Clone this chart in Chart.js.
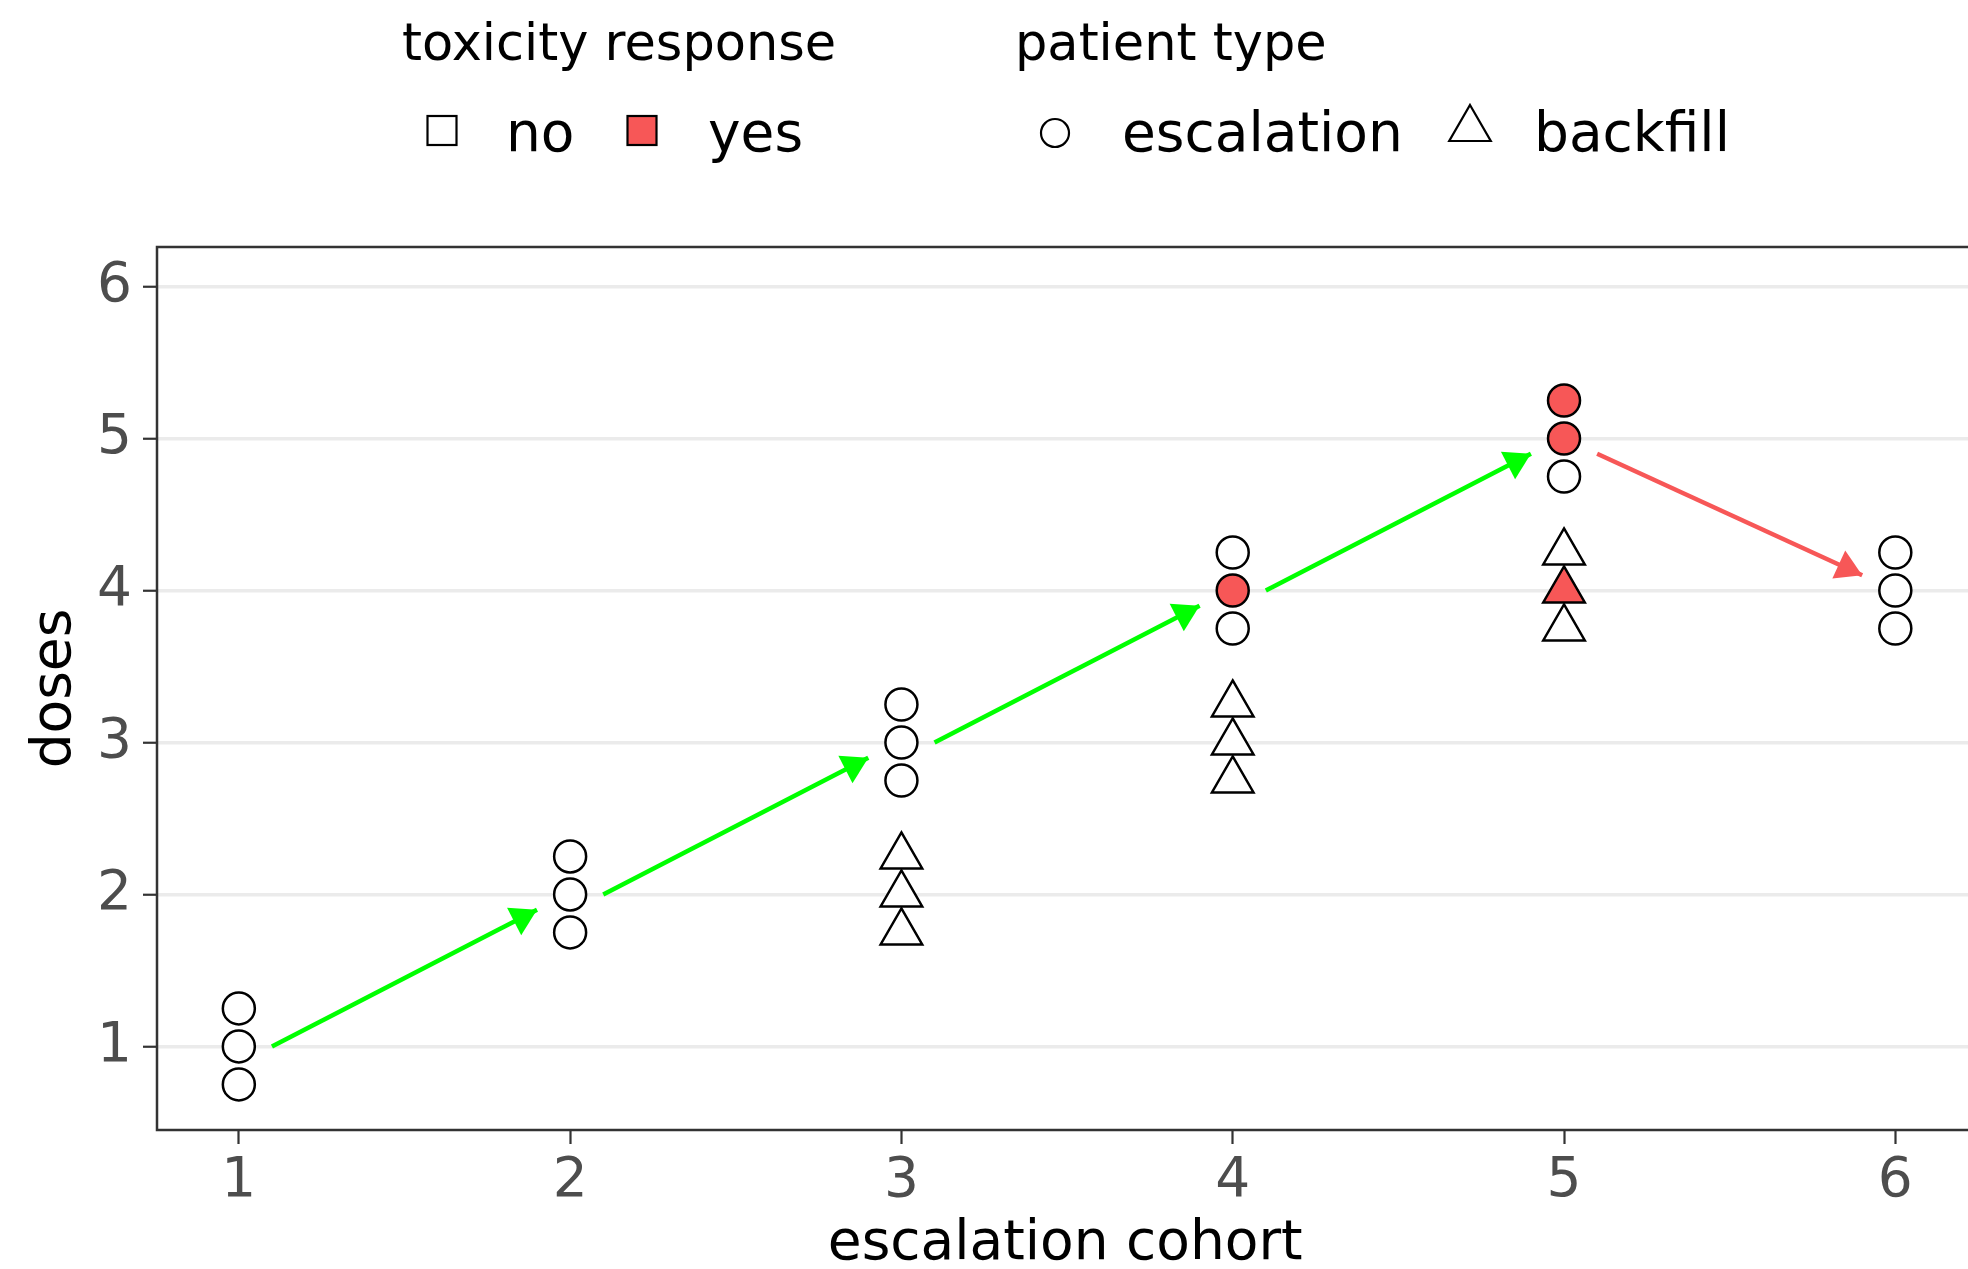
<!DOCTYPE html>
<html>
<head>
<meta charset="utf-8">
<script src="https://cdn.jsdelivr.net/npm/chart.js@4.4.1/dist/chart.umd.min.js"></script>
<style>
  html, body { margin: 0; padding: 0; background: #fff; overflow: hidden; }
  #wrap { width: 1968px; height: 1269px; overflow: hidden; }
  canvas { display: block; }
</style>
</head>
<body>
<div id="wrap"><canvas id="doseChart" width="2000" height="1269"></canvas></div>
<script>
'use strict';

// ── Data ─────────────────────────────────────────────────────────────────────
const xTicks = [1, 2, 3, 4, 5, 6];
const yTicks = [1, 2, 3, 4, 5, 6];

// escalation patients, no toxicity
const escNoX = [1, 1, 1, 2, 2, 2, 3, 3, 3, 4, 4, 5, 6, 6, 6];
const escNoY = [0.75, 1, 1.25, 1.75, 2, 2.25, 2.75, 3, 3.25, 3.75, 4.25, 4.75, 3.75, 4, 4.25];
// escalation patients, toxicity
const escYesX = [4, 5, 5];
const escYesY = [4, 5, 5.25];
// backfill patients, no toxicity
const bfNoX = [3, 3, 3, 4, 4, 4, 5, 5];
const bfNoY = [1.75, 2, 2.25, 2.75, 3, 3.25, 3.75, 4.25];
// backfill patients, toxicity
const bfYesX = [5];
const bfYesY = [4];

// dose decisions between cohorts
const arrowFromX = [1.1, 2.1, 3.1, 4.1, 5.1];
const arrowFromY = [1, 2, 3, 4, 4.9];
const arrowToX   = [1.9, 2.9, 3.9, 4.9, 5.9];
const arrowToY   = [1.9, 2.9, 3.9, 4.9, 4.1];
const arrowDir   = ['up', 'up', 'up', 'up', 'down'];

// ── Styles ───────────────────────────────────────────────────────────────────
const TOX_RED = '#F75757';
const ARROW_COLORS = { up: '#00FF00', down: '#F75757' };
const FONT = "'DejaVu Sans', sans-serif";

Chart.defaults.font.family = FONT;

function pts(xs, ys) {
  return xs.map((x, i) => ({ x, y: ys[i] }));
}

function pointSet(label, xs, ys, shape, fill) {
  return {
    type: 'scatter',
    label,
    data: pts(xs, ys),
    pointStyle: shape,
    pointRadius: shape === 'triangle' ? 24 : 16,
    pointBackgroundColor: fill,
    pointBorderColor: '#000',
    pointBorderWidth: 2.5,
    order: 1,
  };
}

const arrowSets = arrowToX.map((tx, i) => ({
  type: 'line',
  label: 'arrow ' + (i + 1),
  data: [{ x: arrowFromX[i], y: arrowFromY[i] }, { x: tx, y: arrowToY[i] }],
  borderColor: ARROW_COLORS[arrowDir[i]],
  borderWidth: 4.5,
  pointRadius: 0,
  tension: 0,
  order: 2,
}));

// ── Plugins ──────────────────────────────────────────────────────────────────
const arrowHeads = {
  id: 'arrowHeads',
  afterDatasetsDraw(chart) {
    const { ctx, scales: { x, y } } = chart;
    const len = 30, half = 0.54;
    arrowToX.forEach((tx, i) => {
      const x0 = x.getPixelForValue(arrowFromX[i]);
      const y0 = y.getPixelForValue(arrowFromY[i]);
      const x1 = x.getPixelForValue(tx);
      const y1 = y.getPixelForValue(arrowToY[i]);
      const ang = Math.atan2(y1 - y0, x1 - x0);
      ctx.save();
      ctx.fillStyle = ARROW_COLORS[arrowDir[i]];
      ctx.beginPath();
      ctx.moveTo(x1, y1);
      ctx.lineTo(x1 - len * Math.cos(ang - half), y1 - len * Math.sin(ang - half));
      ctx.lineTo(x1 - len * Math.cos(ang + half), y1 - len * Math.sin(ang + half));
      ctx.closePath();
      ctx.fill();
      ctx.restore();
    });
  },
};

const panelBorder = {
  id: 'panelBorder',
  afterDraw(chart) {
    const { ctx, chartArea: a } = chart;
    ctx.save();
    ctx.strokeStyle = '#333333';
    ctx.lineWidth = 2.5;
    ctx.strokeRect(a.left, a.top, a.right - a.left, a.bottom - a.top);
    ctx.restore();
  },
};

// two grouped legends drawn above the panel, ggplot style
const groupedLegend = {
  id: 'groupedLegend',
  afterDraw(chart) {
    const ctx = chart.ctx;
    ctx.save();
    ctx.fillStyle = '#000';
    ctx.textBaseline = 'alphabetic';
    ctx.font = '51px ' + FONT;
    ctx.fillText('toxicity response', 402, 60);
    ctx.fillText('patient type', 1015, 60);

    ctx.font = '55px ' + FONT;
    ctx.fillText('no', 506, 151);
    ctx.fillText('yes', 708, 151);
    ctx.fillText('escalation', 1122, 151);
    ctx.fillText('backfill', 1534, 151);

    ctx.lineWidth = 2.2;
    ctx.strokeStyle = '#000';
    // squares
    [[442, '#fff'], [642, TOX_RED]].forEach(([cx, fill]) => {
      ctx.fillStyle = fill;
      ctx.fillRect(cx - 14.5, 116, 29, 29);
      ctx.strokeRect(cx - 14.5, 116, 29, 29);
    });
    // circle
    ctx.fillStyle = '#fff';
    ctx.beginPath();
    ctx.arc(1055, 133, 14, 0, Math.PI * 2);
    ctx.fill();
    ctx.stroke();
    // triangle
    const tx = 1470, ty = 129, r = 24;
    ctx.beginPath();
    ctx.moveTo(tx, ty - r);
    ctx.lineTo(tx + r * Math.sin(2 * Math.PI / 3), ty + r / 2);
    ctx.lineTo(tx - r * Math.sin(2 * Math.PI / 3), ty + r / 2);
    ctx.closePath();
    ctx.fill();
    ctx.stroke();
    ctx.restore();
  },
};

// ── Chart ────────────────────────────────────────────────────────────────────
const ctx = document.getElementById('doseChart').getContext('2d');

new Chart(ctx, {
  type: 'scatter',
  data: {
    datasets: [
      pointSet('escalation, no', escNoX, escNoY, 'circle', '#fff'),
      pointSet('escalation, yes', escYesX, escYesY, 'circle', TOX_RED),
      pointSet('backfill, no', bfNoX, bfNoY, 'triangle', '#fff'),
      pointSet('backfill, yes', bfYesX, bfYesY, 'triangle', TOX_RED),
      ...arrowSets,
    ],
  },
  options: {
    responsive: false,
    animation: false,
    events: [],
    layout: { padding: { top: 247, right: 22, bottom: 0, left: 0 } },
    plugins: {
      legend: { display: false },
      tooltip: { enabled: false },
    },
    scales: {
      x: {
        type: 'linear',
        min: 0.753,
        max: 6.236,
        afterBuildTicks: s => { s.ticks = xTicks.map(v => ({ value: v })); },
        afterFit: s => { s.height = 139; },
        ticks: { color: '#4D4D4D', font: { size: 55 }, padding: 5 },
        grid: {
          drawOnChartArea: false,
          drawTicks: true,
          tickLength: 14,
          tickColor: '#333333',
          tickWidth: 2.2,
        },
        border: { display: false },
        title: {
          display: true,
          text: 'escalation cohort',
          color: '#000',
          font: { size: 55, lineHeight: 0.9 },
          padding: { top: 0, bottom: 0 },
        },
      },
      y: {
        type: 'linear',
        min: 0.45,
        max: 6.26,
        afterBuildTicks: s => { s.ticks = yTicks.map(v => ({ value: v })); },
        afterFit: s => { s.width = 157; },
        ticks: { color: '#4D4D4D', font: { size: 55 }, padding: 11 },
        grid: {
          color: '#EBEBEB',
          lineWidth: 3.5,
          drawTicks: true,
          tickLength: 14,
          tickColor: '#333333',
          tickWidth: 2.2,
        },
        border: { display: false },
        title: {
          display: true,
          text: 'doses',
          color: '#000',
          font: { size: 55, lineHeight: 1 },
          padding: { top: 28, bottom: 0 },
        },
      },
    },
  },
  plugins: [arrowHeads, panelBorder, groupedLegend],
});
</script>
</body>
</html>
